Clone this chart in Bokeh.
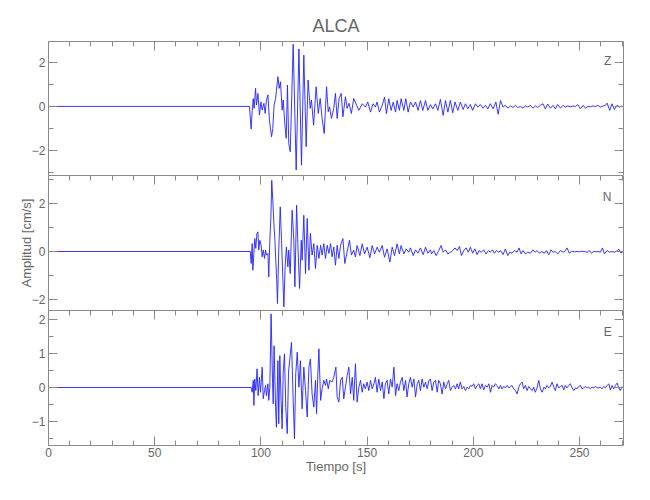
from bokeh.plotting import figure
from bokeh.layouts import column
from bokeh.models import Range1d, LinearAxis, FixedTicker, Label, CustomLabelingPolicy
from bokeh.embed import file_html
from bokeh.resources import INLINE

# ---------------- data ----------------
station = "ALCA"
components = ["Z", "N", "E"]
x_title = "Tiempo [s]"
y_title = "Amplitud [cm/s]"

x_ticks = [0, 50, 100, 150, 200, 250]
x_minor = list(range(0, 271, 10))

# Z component: time (s) of turning points and amplitude (cm/s)
z_time = [0, 94.6, 94.9, 95.4, 95.9, 96.4, 96.8, 97.5, 97.9, 98.6,
          99.3, 100.0, 100.6, 101.4, 102.0, 102.6, 103.3, 104.0, 105.0, 105.6,
          106.2, 106.9, 108.0, 108.6, 109.2, 110.0, 110.5, 111.3, 111.9, 112.5,
          113.1, 113.8, 115.2, 116.6, 117.9, 119.1, 120.2, 121.3, 122.2, 123.2,
          123.8, 124.8, 126.0, 127.0, 127.9, 128.8, 129.8, 130.9, 131.7, 132.3,
          133.2, 134.3, 135.1, 135.9, 136.8, 137.8, 138.6, 139.8, 140.6, 141.5,
          142.6, 143.7,
          146.1, 147.7, 149.2, 150.3, 151.6, 152.8, 153.9, 154.7, 155.8, 157.1,
          158.2, 159.1, 160.2, 161.3, 162.3, 163.4, 164.1, 165.2, 166.0, 167.3,
          168.2, 169.3, 170.4, 171.7, 172.8, 174.0, 175.1, 176.2, 177.5, 178.6, 179.8,
          180.9, 182.2, 183.3, 184.5, 185.8, 186.9, 188.0, 189.2, 190.3, 191.4,
          192.7, 193.9, 195.2, 196.3, 197.4, 198.6, 199.7, 201.0, 202.1, 203.3,
          204.6, 205.7, 206.8, 208.0, 209.3, 210.6, 211.7, 212.8, 214.0, 215.1,
          216.2, 217.5, 218.7, 219.8, 220.9, 222.2, 223.4, 224.5, 225.6, 226.9,
          228.1, 229.2, 230.3, 231.6, 232.8, 233.9, 235.0, 236.3, 237.5, 238.6,
          239.7, 241.0, 242.3, 243.3, 244.4, 245.7, 246.9, 248.1, 249.2, 250.4,
          251.7, 252.8, 253.9, 255.1, 256.4, 257.5, 258.6, 259.8, 261.1, 262.2,
          263.0, 264.2, 265.3, 266.4, 267.7, 268.9, 270.0]
z_amp = [0, 0, -0.39, -1.03, -0.17, 0.36, -0.09, 0.82, 0.06, 0.59,
         -0.39, 0.21, -0.17, 0.14, -0.32, 0.29, 0.52, -0.62, -1.38, -1.0,
         0.06, 0.36, 1.35, 0.82, 1.12, -0.17, 0.29, -0.85, -1.45, 0.97,
         -1.68, -2.06, 2.82, -2.89, 2.61, -2.67, 2.33, -1.83, 1.20, -0.09,
         0.29, -0.85, 0.89, -0.32, 0.36, -0.55, -1.23, 0.89, -0.24, -0.02,
         -0.55, -0.09, 0.59, -0.55, 0.36, 0.59, -0.47, 0.44, -0.09, 0.14,
         -0.32, 0.36,
         -0.18, 0.12, -0.03, 0.20, -0.26, 0.12, -0.03, 0.20, -0.26, 0.05,
         0.42, -0.33, 0.35, -0.18, 0.20, -0.26, 0.27, -0.18, 0.35, -0.18,
         0.35, -0.26, 0.20, -0.03, 0.20, -0.18, 0.27, -0.18, 0.27, -0.18, 0.08,
         -0.11, 0.12, -0.18, 0.32, -0.41, 0.27, -0.26, 0.27, -0.29, 0.20,
         -0.18, 0.20, -0.14, 0.12, -0.11, 0.09, -0.18, 0.12, -0.03, 0.08,
         -0.08, 0.05, -0.11, 0.12, -0.11, 0.20, -0.36, 0.27, -0.03, 0.05,
         -0.08, 0.02, -0.05, 0.05, -0.05, 0.00, -0.08, 0.03, -0.03, 0.05,
         -0.08, 0.02, -0.05, 0.05, 0.12, -0.11, 0.11, -0.08, 0.05, -0.11,
         0.09, -0.08, 0.05, -0.03, 0.02, -0.02, 0.02, 0.00, 0.08, -0.11,
         0.05, -0.08, 0.00, -0.01, 0.02, -0.01, 0.05, -0.03, 0.02, 0.05,
         0.15, -0.18, 0.12, -0.14, 0.05, -0.03, 0.02]

# N component
n_time = [0, 95.0, 95.4, 95.9, 96.2, 96.7, 97.1, 97.6, 98.1, 98.6,
          99.0, 99.5, 100.1, 100.6, 101.1, 101.7, 102.2, 102.6, 103.3, 103.7,
          104.2, 104.7, 105.1, 105.6, 106.1, 106.6, 107.0, 107.5, 107.8, 108.4,
          109.1, 109.7, 110.3, 110.8, 111.4, 112.0, 112.7, 113.1, 113.8, 114.7,
          115.5, 116.0, 116.8, 117.5, 118.2, 119.0, 119.4, 120.2, 121.0, 121.8,
          122.6, 123.3, 124.1, 124.9, 125.7, 126.5, 127.3, 128.1, 128.8, 129.6,
          130.4, 131.2, 132.0, 132.8, 133.5, 134.3, 135.1, 135.9, 136.7, 137.5,
          138.6, 139.5, 140.6, 141.7, 142.6, 143.7, 144.5,
          145.3, 146.6, 147.7, 148.8, 150.0, 151.3, 152.4, 153.5, 154.7, 155.8,
          157.1, 158.2, 159.4, 160.7, 161.8, 162.9, 164.1, 165.2, 166.0, 167.3,
          168.4, 169.6, 170.4, 171.7, 172.8, 173.9, 175.1, 176.4, 177.5, 178.6, 179.8,
          180.3, 181.4, 182.5, 183.7, 184.8, 185.8, 186.9, 188.0, 189.2, 190.3,
          191.4, 192.4, 193.5, 194.4, 195.5, 196.6, 197.7, 198.6, 199.7, 200.7,
          201.8, 202.7, 203.8, 204.9, 206.0, 207.1, 208.0, 209.0, 209.9, 210.9,
          212.0, 212.8, 214.0, 215.1, 216.2, 217.1, 218.2, 219.3, 220.6, 221.5,
          222.5, 223.4, 224.5, 225.6, 226.9, 228.0, 229.1, 230.0, 231.1, 232.2,
          233.5, 234.4, 235.5, 236.6, 237.5, 238.6, 239.7, 241.0, 242.3, 243.4,
          244.1, 245.2, 246.5, 247.6, 248.8, 250.1, 251.2, 252.3, 253.6, 254.6,
          255.6, 256.7, 257.8, 258.7, 259.8, 260.8, 261.7, 263.0, 264.1, 265.3,
          266.4, 267.4, 268.5, 269.5, 270.5]
n_amp = [0, 0, -0.50, 0.33, -0.78, -0.08, 0.54, 0.13, 0.75, 0.82,
         0.06, 0.47, 0.26, -0.22, 0.06, -0.29, 0.06, -0.15, -0.08, -1.06,
         0.47, 1.44, 2.97, 2.14, 1.17, 0.47, -0.36, -1.33, -2.17, 0.06,
         1.86, 0.47, -1.06, -2.31, -0.64, 0.19, -0.64, 0.06, -0.92, 1.72,
         0.47, -1.47, 1.93, 0.06, -1.54, 0.47, -0.36, 1.51, -0.92, 1.38,
         -0.78, 0.75, -0.15, 0.33, -0.71, 0.26, -0.29, 0.26, -0.15, 0.33,
         -0.29, 0.26, -0.08, 0.33, -0.22, 0.19, -0.57, 0.26, -0.29, 0.26,
         0.54, -0.50, 0.00, 0.47, -0.15, 0.06, -0.22,
         0.25, -0.17, 0.32, -0.10, 0.18, -0.26, 0.25, -0.10, 0.18, -0.03,
         0.25, -0.24, 0.11, -0.44, 0.18, -0.17, 0.32, -0.10, 0.25, -0.10,
         0.11, -0.03, 0.15, -0.17, 0.07, -0.07, 0.15, -0.13, 0.18, -0.07, 0.07,
         -0.10, 0.04, -0.17, 0.04, 0.25, -0.03, 0.07, -0.10, -0.03, 0.04,
         0.15, 0.04, 0.21, -0.17, 0.04, 0.15, -0.03, 0.18, -0.07, 0.11,
         -0.13, 0.04, -0.03, 0.07, -0.10, 0.04, -0.03, 0.07, -0.07, 0.04,
         -0.03, 0.04, -0.13, 0.11, -0.17, -0.03, -0.07, 0.04, -0.03, 0.15,
         -0.10, 0.04, -0.10, -0.03, -0.07, 0.07, -0.03, 0.04, -0.07, 0.00,
         -0.07, 0.04, -0.13, 0.07, -0.03, 0.00, -0.10, 0.04, -0.03, 0.04,
         0.15, -0.07, 0.01, -0.01, 0.00, -0.01, 0.01, 0.00, -0.03, 0.04,
         -0.07, 0.01, -0.01, 0.00, -0.03, 0.15, -0.10, 0.04, -0.03, 0.00,
         -0.03, 0.01, 0.10, -0.07, 0.00]

# E component
e_time = [0, 95.4, 95.9, 96.4, 96.7, 97.1, 97.6, 98.2, 98.7, 99.3,
          99.8, 100.6, 101.1, 101.7, 102.2, 102.6, 103.3, 103.7, 104.2, 104.8,
          105.5, 105.8, 106.2, 106.9, 107.3, 108.0, 108.4, 108.9, 109.5, 110.0,
          110.5, 111.1, 111.7, 112.4, 113.0, 113.6, 114.4, 115.2, 115.8, 116.4,
          117.1, 117.9, 118.6, 119.4, 120.2, 121.0, 121.8, 122.6, 123.3, 124.1,
          124.9, 125.7, 126.2, 126.8, 127.3, 128.1, 128.8, 129.6, 130.4, 130.9,
          131.7, 132.4, 133.5, 134.3, 135.3, 135.9, 136.7, 137.5, 138.3, 139.0,
          139.8, 140.6, 141.4, 142.2, 143.0, 143.7, 144.5, 145.3, 146.1, 146.9,
          147.7, 148.4, 149.2, 150.0, 150.8, 151.6, 152.4, 153.2, 153.9, 154.7,
          155.5, 156.3, 157.1, 157.9, 158.6, 159.4, 160.2, 161.0, 161.8, 162.6,
          163.4, 164.1, 164.9, 165.7, 166.5, 167.3, 168.1, 168.8, 169.6, 170.4,
          171.2, 172.0, 172.8, 173.6, 174.3, 175.1, 175.9, 176.7, 177.5, 178.3, 179.1,
          179.8, 180.6, 181.4, 182.2, 183.0, 183.7, 184.5, 185.3, 186.1, 186.9,
          187.7, 188.4, 189.2, 190.0, 190.8, 191.6, 192.4, 193.1, 193.9, 194.7,
          195.5, 196.3, 197.1, 197.9, 198.6, 199.4, 200.2, 201.0, 201.8, 202.6,
          203.3, 204.1, 204.9, 205.7, 206.5, 207.3, 208.1, 208.8, 209.6, 210.4,
          211.2, 212.0, 212.8, 213.5, 214.3, 215.1, 215.9, 216.7, 217.5, 218.2,
          219.0, 219.8, 220.6, 221.4, 222.2, 223.0, 223.7, 224.5, 225.3, 226.1,
          226.9, 227.7, 228.4, 229.2, 230.0, 230.8, 231.6, 232.4, 233.2, 233.9,
          234.7, 235.5, 236.3, 237.1, 237.9, 238.6, 239.4, 240.2, 241.0, 241.8,
          242.6, 243.3, 244.1, 244.9, 245.7, 246.5, 247.3, 248.1, 248.8, 249.6,
          250.4, 251.2, 252.0, 252.8, 253.6, 254.3, 255.1, 255.9, 256.7, 257.5,
          258.3, 259.0, 259.8, 260.6, 261.4, 262.2, 263.0, 263.8, 264.5, 265.3,
          266.1, 266.9, 267.7, 268.5, 269.2, 270.0]
e_amp = [0, 0, -0.14, 0.21, -0.53, 0.25, -0.09, 0.55, -0.24, 0.30,
         -0.14, 0.60, -0.33, -0.09, 0.06, -0.24, 0.11, -0.38, 0.00, 2.17,
         0.11, -0.48, 1.23, -0.58, -1.17, 0.79, -1.07, 0.94, -0.38, -1.22,
         0.45, 0.99, -0.58, -1.36, 0.45, 0.84, 1.33, -0.38, -1.51, 0.40,
         1.04, 0.01, 0.79, -0.63, 0.60, -0.09, -0.87, 0.60, 0.84, -0.19,
         -0.58, 0.21, -0.77, 0.40, 1.14, -0.38, -0.04, 0.21, 0.06, 0.25,
         -0.04, 0.21, 0.16, 0.30, 0.60, -0.28, -0.43, 0.21, 0.30, -0.33,
         0.01, 0.35, 0.60, -0.19, 0.30, -0.38, 0.70, -0.43, 0.01, 0.21,
         -0.14, 0.11, -0.04, 0.16, -0.09, 0.21, -0.04, 0.11, 0.30, -0.14,
         0.25, -0.09, 0.16, -0.33, 0.11, 0.21, -0.19, 0.25, 0.01, 0.60,
         -0.24, 0.11, -0.09, 0.16, 0.30, -0.09, 0.21, -0.28, 0.11, 0.30,
         0.01, 0.25, -0.28, 0.11, 0.21, -0.09, 0.25, 0.01, 0.16, -0.04, 0.21,
         0.25, -0.09, 0.16, 0.21, -0.14, 0.21, 0.11, -0.19, 0.16, -0.04,
         0.11, 0.21, -0.09, 0.01, 0.06, -0.04, 0.11, -0.04, 0.16, -0.04,
         0.03, -0.09, 0.01, -0.04, 0.06, 0.03, 0.11, -0.04, 0.06, 0.11,
         -0.04, 0.11, -0.07, 0.06, 0.01, 0.11, -0.14, 0.06, 0.01, 0.11,
         0.06, -0.04, 0.06, -0.04, 0.03, -0.01, 0.06, -0.01, 0.03, 0.06,
         -0.04, -0.09, -0.19, 0.01, 0.11, 0.16, -0.04, 0.06, -0.09, 0.03,
         -0.04, -0.09, 0.01, -0.14, -0.01, 0.21, -0.04, -0.14, 0.01, -0.04,
         0.06, -0.01, 0.03, 0.16, 0.01, -0.09, 0.11, -0.01, 0.03, 0.06,
         -0.07, 0.06, -0.01, 0.06, 0.11, -0.01, -0.09, -0.01, -0.04, 0.03,
         0.06, -0.04, -0.01, 0.03, -0.01, 0.01, -0.04, 0.01, -0.01, 0.03,
         -0.01, -0.01, 0.01, -0.04, 0.03, -0.01, 0.06, 0.11, -0.07, 0.06,
         -0.04, 0.06, 0.13, -0.01, -0.09, 0.03]

z_ticks, z_minor = [-2, 0, 2], [-3, -1, 1]
n_ticks, n_minor = [-2, 0, 2], [-1, 1, 3]
e_ticks, e_minor = [-1, 0, 1, 2], [-1.5, -0.5, 0.5, 1.5]

for t, a in ((z_time, z_amp), (n_time, n_amp), (e_time, e_amp)):
    assert len(t) == len(a), (len(t), len(a))

# ---------------- styling ----------------
FONT = "Liberation Sans"
AXIS = "#8a8a8a"
TEXT = "#666666"
LINE = "#2222ff"

LEFT = 48      # frame left edge in the page
FRAME_W = 575
RIGHT = 10

x_range = Range1d(0, 270.7)


def no_labels():
    return CustomLabelingPolicy(code="for (const i of indices) indices.unset(i)")


def style_axis(ax, labels=True, font_size="12px", standoff=3):
    ax.axis_line_color = AXIS
    ax.major_tick_line_color = AXIS
    ax.minor_tick_line_color = AXIS
    ax.major_tick_in = 9
    ax.major_tick_out = 0
    ax.minor_tick_in = 5
    ax.minor_tick_out = 0
    ax.major_label_text_font = FONT
    ax.major_label_text_color = TEXT
    if labels:
        ax.major_label_text_font_size = font_size
        ax.major_label_standoff = standoff
    else:
        ax.major_label_text_font_size = "0px"
        ax.major_label_standoff = 0
        ax.major_label_policy = no_labels()


def panel(comp, t, a, yr, ticks, minor, height, top_border, bottom_border,
          label_pos, bottom_axis=False, ylabel=None):
    p = figure(width=LEFT + FRAME_W + RIGHT, height=height, x_range=x_range,
               y_range=Range1d(*yr),
               output_backend="svg", toolbar_location=None,
               x_axis_location=None, y_axis_location=None,
               min_border_left=LEFT, min_border_right=RIGHT,
               min_border_top=top_border, min_border_bottom=bottom_border)
    p.outline_line_color = None
    p.grid.visible = False
    p.background_fill_color = "white"
    p.border_fill_color = "white"

    yt = FixedTicker(ticks=ticks, minor_ticks=minor)
    xt = FixedTicker(ticks=x_ticks, minor_ticks=x_minor)

    left = LinearAxis(ticker=yt)
    style_axis(left)
    if ylabel:
        left.axis_label = ylabel
        left.axis_label_text_font = FONT
        left.axis_label_text_font_style = "normal"
        left.axis_label_text_font_size = "13px"
        left.axis_label_text_color = TEXT
        left.axis_label_standoff = -5
    p.add_layout(left, "left")

    right = LinearAxis(ticker=yt)
    style_axis(right, labels=False)
    p.add_layout(right, "right")

    top = LinearAxis(ticker=xt)
    style_axis(top, labels=False)
    p.add_layout(top, "above")

    if bottom_axis:
        bottom = LinearAxis(ticker=xt)
        style_axis(bottom, standoff=2)
        bottom.axis_label = x_title
        bottom.axis_label_text_font = FONT
        bottom.axis_label_text_font_style = "normal"
        bottom.axis_label_text_font_size = "13px"
        bottom.axis_label_text_color = TEXT
        bottom.axis_label_standoff = -1
        p.add_layout(bottom, "below")

    p.line(t, a, line_color=LINE, line_width=0.9)

    p.add_layout(Label(x=label_pos[0], y=label_pos[1], text=comp,
                       text_font=FONT, text_font_size="12px", text_color=TEXT,
                       text_align="center", text_baseline="middle"))
    return p


p1 = panel(components[0], z_time, z_amp, (-3.14, 2.95), z_ticks, z_minor,
           height=41 + 134, top_border=41, bottom_border=0, label_pos=(263.3, 2.05))
p1.title.text = station
p1.title.align = "center"
p1.title.text_font = FONT
p1.title.text_font_size = "18px"
p1.title.text_font_style = "normal"
p1.title.text_color = TEXT
p1.title.standoff = 11

p2 = panel(components[1], n_time, n_amp, (-2.46, 3.17), n_ticks, n_minor,
           height=135, top_border=0, bottom_border=0, label_pos=(263.0, 2.29),
           ylabel=y_title)

p3 = panel(components[2], e_time, e_amp, (-1.71, 2.27), e_ticks, e_minor,
           height=135 + 45, top_border=0, bottom_border=45, label_pos=(263.3, 1.65),
           bottom_axis=True)

layout = column(p1, p2, p3, spacing=0)
open("out.html", "w").write(file_html(layout, INLINE))
